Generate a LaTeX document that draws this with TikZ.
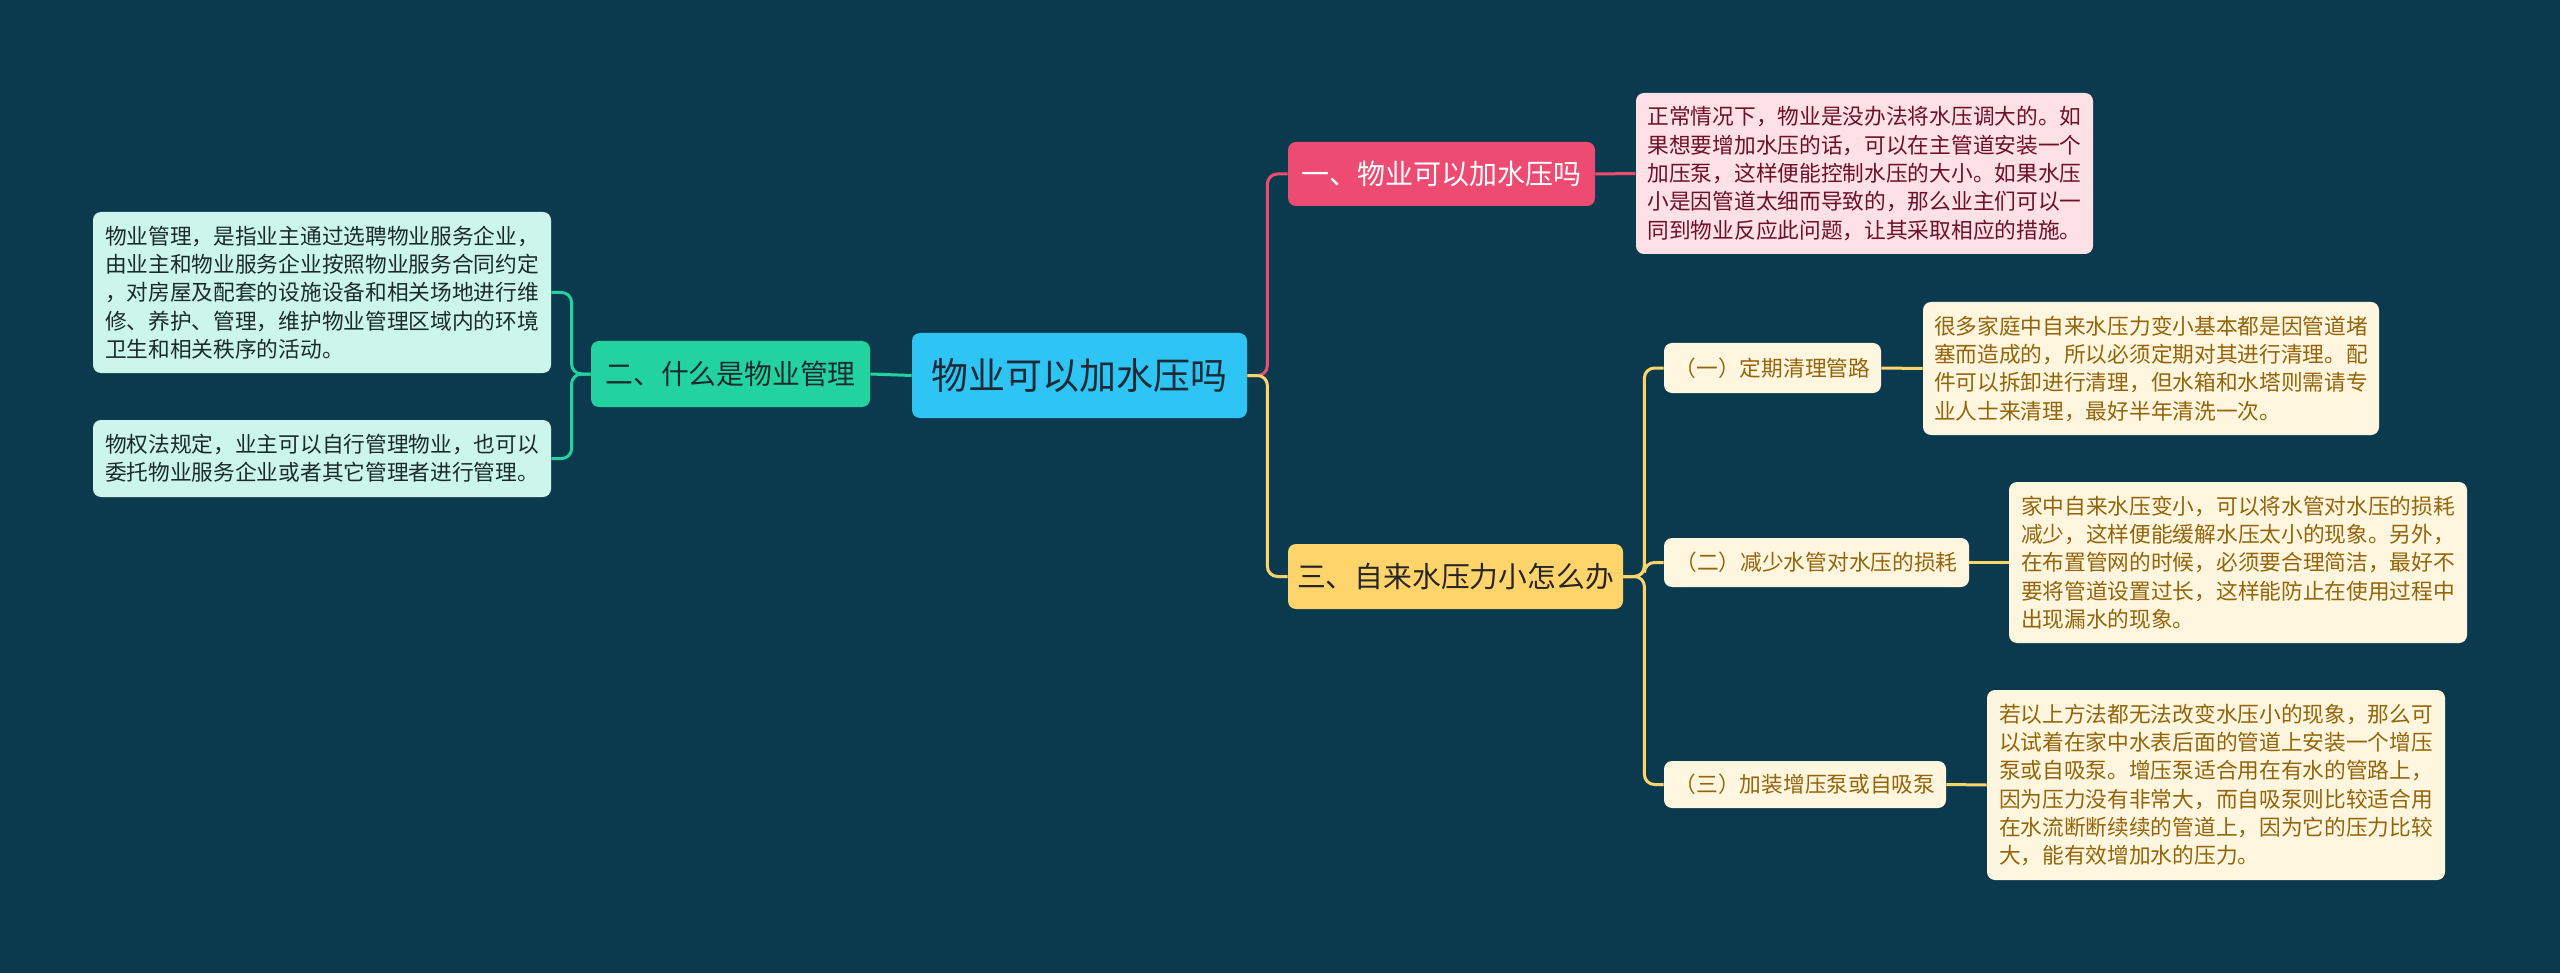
\documentclass[tikz,border=0pt]{standalone}
\usepackage{fontspec}
\setmainfont{Noto Sans CJK SC}
\definecolor{bgc}{HTML}{0B3A4E}
\definecolor{rootc}{HTML}{2EC4F4}
\definecolor{roottext}{HTML}{1D2B36}
\definecolor{pinkc}{HTML}{EE4B72}
\definecolor{pinkl}{HTML}{FDE1E7}
\definecolor{pinktext}{HTML}{6E1028}
\definecolor{yelc}{HTML}{FFD46A}
\definecolor{yell}{HTML}{FFF6E0}
\definecolor{yeltext}{HTML}{93650A}
\definecolor{grnc}{HTML}{22D3A0}
\definecolor{grnl}{HTML}{CCF6EC}
\definecolor{grntext}{HTML}{1B2B2B}
\tikzset{
  box/.style={rectangle, rounded corners=4pt, inner sep=0pt, align=left},
  small/.style={font=\fontsize{10.85pt}{14.15pt}\selectfont},
  rootbox/.style={box, fill=rootc, text=roottext, font=\fontsize{18.5pt}{22pt}\selectfont},
  pinkbox/.style={box, fill=pinkc, text=white, font=\fontsize{14pt}{17pt}\selectfont},
  pinkdet/.style={box, small, fill=pinkl, text=pinktext},
  yelbox/.style={box, fill=yelc, text=black!85, font=\fontsize{14.4pt}{17pt}\selectfont},
  yelchild/.style={box, small, fill=yell, text=yeltext},
  grnbox/.style={box, fill=grnc, text=grntext, font=\fontsize{13.9pt}{17pt}\selectfont},
  grndet/.style={box, small, fill=grnl, text=grntext},
  conn/.style={line width=1.5pt, rounded corners=5pt},
}
\begin{document}
\begin{tikzpicture}[x=0.5pt, y=-0.5pt]
\fill[bgc] (0,0) rectangle (2560,973);
\useasboundingbox (0,0) rectangle (2560,973);

\node[rootbox, minimum width=167.5pt, minimum height=42.5pt] (root) at (1079.5,375.5) {物业可以加水压吗};

\node[pinkbox, minimum width=153.5pt, minimum height=32pt] (n1) at (1441.5,174) {一、物业可以加水压吗};
\node[pinkdet, minimum width=228.5pt, minimum height=80.5pt] (d1) at (1864.5,173.5) {正常情况下，物业是没办法将水压调大的。如\\果想要增加水压的话，可以在主管道安装一个\\加压泵，这样便能控制水压的大小。如果水压\\小是因管道太细而导致的，那么业主们可以一\\同到物业反应此问题，让其采取相应的措施。};

\node[yelbox, minimum width=167.5pt, minimum height=32.5pt] (n3) at (1455.5,576.5) {三、自来水压力小怎么办};
\node[yelchild, minimum width=108.5pt, minimum height=25pt] (c1) at (1772.5,368) {（一）定期清理管路};
\node[yelchild, minimum width=152.5pt, minimum height=24.5pt] (c2) at (1816.5,562.5) {（二）减少水管对水压的损耗};
\node[yelchild, minimum width=141pt, minimum height=23.5pt] (c3) at (1805,784.5) {（三）加装增压泵或自吸泵};
\node[yelchild, minimum width=228pt, minimum height=66.5pt] (e1) at (2151,368.5) {很多家庭中自来水压力变小基本都是因管道堵\\塞而造成的，所以必须定期对其进行清理。配\\件可以拆卸进行清理，但水箱和水塔则需请专\\业人士来清理，最好半年清洗一次。};
\node[yelchild, minimum width=229pt, minimum height=80.5pt] (e2) at (2238,562.5) {家中自来水压变小，可以将水管对水压的损耗\\减少，这样便能缓解水压太小的现象。另外，\\在布置管网的时候，必须要合理简洁，最好不\\要将管道设置过长，这样能防止在使用过程中\\出现漏水的现象。};
\node[yelchild, minimum width=229pt, minimum height=95pt] (e3) at (2216,785) {若以上方法都无法改变水压小的现象，那么可\\以试着在家中水表后面的管道上安装一个增压\\泵或自吸泵。增压泵适合用在有水的管路上，\\因为压力没有非常大，而自吸泵则比较适合用\\在水流断断续续的管道上，因为它的压力比较\\大，能有效增加水的压力。};

\node[grnbox, minimum width=139.5pt, minimum height=33pt] (n2) at (730.5,374) {二、什么是物业管理};
\node[grndet, minimum width=229pt, minimum height=80.5pt] (g1) at (322,292.5) {物业管理，是指业主通过选聘物业服务企业，\\由业主和物业服务企业按照物业服务合同约定\\，对房屋及配套的设施设备和相关场地进行维\\修、养护、管理，维护物业管理区域内的环境\\卫生和相关秩序的活动。};
\node[grndet, minimum width=229pt, minimum height=38.5pt] (g2) at (322,458.5) {物权法规定，业主可以自行管理物业，也可以\\委托物业服务企业或者其它管理者进行管理。};

% connectors
\draw[conn, pinkc] (root.east) -- ++(20,0) |- (n1.west);
\draw[conn, pinkc] (n1.east) -- (d1.west);
\draw[conn, yelc] (root.east) -- ++(20,0) |- (n3.west);
\draw[conn, yelc] (n3.east) -- ++(21,0) |- (c1.west);
\draw[conn, yelc] (n3.east) -- ++(21,0) |- (c2.west);
\draw[conn, yelc] (n3.east) -- ++(21,0) |- (c3.west);
\draw[conn, yelc] (c1.east) -- (e1.west);
\draw[conn, yelc] (c2.east) -- (e2.west);
\draw[conn, yelc] (c3.east) -- (e3.west);
\draw[conn, grnc] (root.west) -- (n2.east);
\draw[conn, grnc] (n2.west) -- ++(-19,0) |- (g1.east);
\draw[conn, grnc] (n2.west) -- ++(-19,0) |- (g2.east);
\end{tikzpicture}
\end{document}
